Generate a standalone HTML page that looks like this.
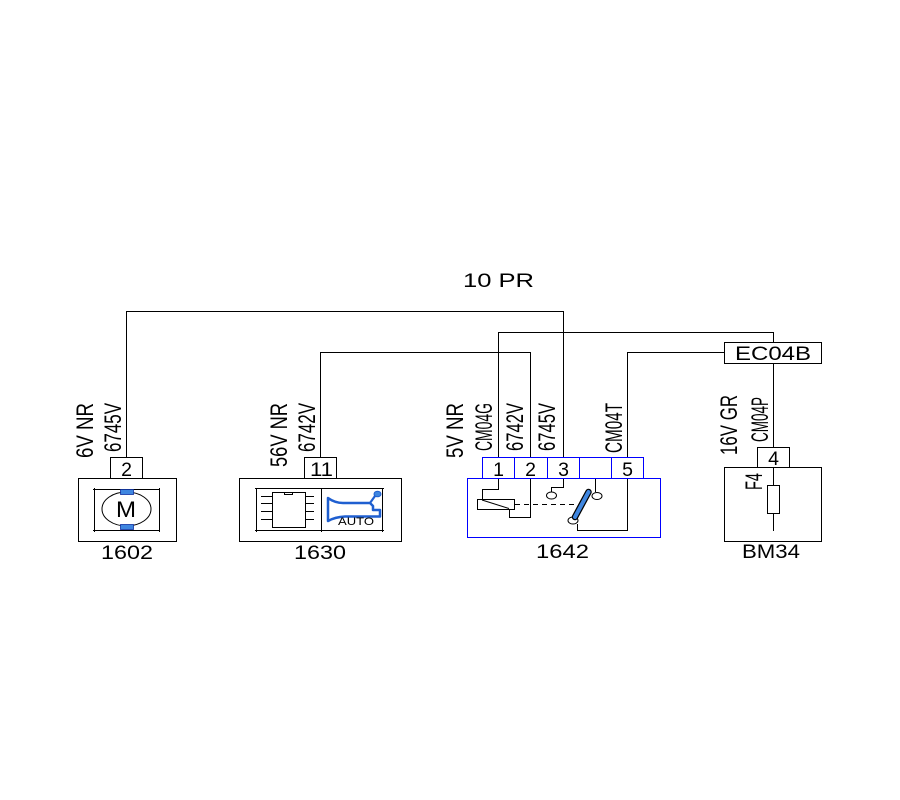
<!DOCTYPE html>
<html>
<head>
<meta charset="utf-8">
<style>
html,body{margin:0;padding:0;background:#fff;}
svg{display:block;}
text{font-family:"Liberation Sans", sans-serif;fill:#000;}
</style>
</head>
<body>
<svg width="900" height="800" viewBox="0 0 900 800" xmlns="http://www.w3.org/2000/svg">
<rect width="900" height="800" fill="#fff"/>

<!-- wires -->
<g stroke="#000" stroke-width="1" fill="none" shape-rendering="crispEdges">
  <path d="M126.5,457 V311.5 H563.5 V457"/>
  <path d="M498.5,457 V332.5 H773.5 V342"/>
  <path d="M320.5,457 V352.5 H530.5 V457"/>
  <path d="M627.5,457 V352.5 H724"/>
  <path d="M773.5,363 V447"/>
  <!-- EC04B -->
  <rect x="724.5" y="342.5" width="97" height="21"/>

  <!-- 1602 -->
  <rect x="110.5" y="457.5" width="32" height="21"/>
  <rect x="78.5" y="478.5" width="98" height="63"/>
  <path d="M93,489.5 H160 M93,530.5 H160 M94.5,488 V532 M159.5,488 V532"/>

  <!-- 1630 -->
  <rect x="304.5" y="457.5" width="32" height="21"/>
  <rect x="239.5" y="478.5" width="162" height="63"/>
  <path d="M255,488.5 H384 M255,530.5 H384 M256.5,488 V532 M321.5,488 V532 M382.5,488 V532"/>
  <rect x="272.5" y="492.5" width="33" height="35"/>
  <path d="M284.5,492.5 V494.5 H292.5 V492.5"/>
  <path d="M261,496.5 H272 M261,503.5 H272 M261,511.5 H272 M261,519.5 H272"/>
  <path d="M306,496.5 H314 M306,503.5 H314 M306,511.5 H314 M306,519.5 H314"/>

  <!-- BM34 -->
  <rect x="757.5" y="447.5" width="32" height="20"/>
  <rect x="724.5" y="467.5" width="97" height="74"/>
  <path d="M773.5,467 V531"/>
</g>

<!-- fuse -->
<rect x="767.5" y="485.5" width="12" height="28" fill="#fff" stroke="#000" stroke-width="1" shape-rendering="crispEdges"/>

<!-- motor -->
<ellipse cx="126.5" cy="509" rx="24.5" ry="17" fill="none" stroke="#000" stroke-width="1"/>
<rect x="120.5" y="489.5" width="13" height="5" fill="#3f86e0" stroke="#1030a0" stroke-width="0.8"/>
<rect x="120.5" y="524.5" width="13" height="5" fill="#3f86e0" stroke="#1030a0" stroke-width="0.8"/>
<text x="116" y="517" font-size="22" textLength="20" lengthAdjust="spacingAndGlyphs">M</text>

<!-- horn -->
<path d="M328,498 Q335,503 343,503 L370,503 L373,506 L373,510 L380,510 L380,516.5 L345,516.5 Q335,517 328,521 Z" fill="none" stroke="#1f5fd0" stroke-width="2.5" stroke-linejoin="round"/>
<path d="M370,503 L375,496" stroke="#1f5fd0" stroke-width="2.2" fill="none"/>
<ellipse cx="377.5" cy="494" rx="3.5" ry="2.8" fill="#3f86e0" stroke="#1f5fd0" stroke-width="1"/>
<text x="338" y="525" font-size="11" textLength="36" lengthAdjust="spacingAndGlyphs">AUTO</text>

<!-- 1642 -->
<g stroke="#0000ff" stroke-width="1" fill="none" shape-rendering="crispEdges">
  <rect x="482.5" y="457.5" width="161" height="21"/>
  <path d="M514.5,457 V478 M547.5,457 V478 M579.5,457 V478 M611.5,457 V478"/>
  <rect x="467.5" y="478.5" width="193" height="59"/>
</g>
<g stroke="#000" stroke-width="1" fill="none">
  <path d="M498.5,479 V489.5 H482.5 V499" shape-rendering="crispEdges"/>
  <rect x="477.5" y="499.5" width="37" height="10" shape-rendering="crispEdges"/>
  <path d="M482,500 L509,508.5"/>
  <path d="M509.5,510 V517.5 H530.5 V479" shape-rendering="crispEdges"/>
  <path d="M515,504.5 H578" stroke-dasharray="5 4" shape-rendering="crispEdges"/>
  <path d="M563.5,479 V487.5 H551.5 V492" shape-rendering="crispEdges"/>
  <ellipse cx="551.5" cy="495.5" rx="5" ry="3.5"/>
  <path d="M595.5,479 V492" shape-rendering="crispEdges"/>
  <ellipse cx="597" cy="496" rx="5" ry="3.5"/>
  <ellipse cx="573" cy="520.5" rx="5" ry="3.5"/>
  <path d="M577.5,524 V530.5 H627.5 V479" shape-rendering="crispEdges"/>
</g>
<line x1="575" y1="517" x2="588.5" y2="492" stroke="#000" stroke-width="6.5" stroke-linecap="round"/>
<line x1="575" y1="517" x2="588.5" y2="492" stroke="#3f86e0" stroke-width="4" stroke-linecap="round"/>

<!-- horizontal labels -->
<g font-size="19.5">
  <text x="463" y="287" textLength="71" lengthAdjust="spacingAndGlyphs">10 PR</text>
  <text x="735" y="360" textLength="76" lengthAdjust="spacingAndGlyphs">EC04B</text>
  <text x="101" y="559" textLength="52" lengthAdjust="spacingAndGlyphs">1602</text>
  <text x="294" y="559" textLength="52" lengthAdjust="spacingAndGlyphs">1630</text>
  <text x="536" y="558" textLength="53" lengthAdjust="spacingAndGlyphs">1642</text>
  <text x="742" y="558" textLength="58" lengthAdjust="spacingAndGlyphs">BM34</text>

  <text x="126.5" y="476" text-anchor="middle">2</text>
  <text x="310" y="476" textLength="23" lengthAdjust="spacingAndGlyphs">11</text>
  <text x="498.5" y="476" text-anchor="middle">1</text>
  <text x="530.5" y="476" text-anchor="middle">2</text>
  <text x="563.5" y="476" text-anchor="middle">3</text>
  <text x="627.5" y="476" text-anchor="middle">5</text>
  <text x="773.5" y="465" text-anchor="middle">4</text>
</g>

<!-- rotated labels -->
<g font-size="24" text-anchor="end">
  <text transform="translate(93,403) rotate(-90)" textLength="55" lengthAdjust="spacingAndGlyphs">6V NR</text>
  <text transform="translate(121,403) rotate(-90)" textLength="49" lengthAdjust="spacingAndGlyphs">6745V</text>
  <text transform="translate(287,403) rotate(-90)" textLength="64" lengthAdjust="spacingAndGlyphs">56V NR</text>
  <text transform="translate(315,403) rotate(-90)" textLength="49" lengthAdjust="spacingAndGlyphs">6742V</text>
  <text transform="translate(463,403) rotate(-90)" textLength="55" lengthAdjust="spacingAndGlyphs">5V NR</text>
  <text transform="translate(492,403) rotate(-90)" textLength="48" lengthAdjust="spacingAndGlyphs">CM04G</text>
  <text transform="translate(523,403) rotate(-90)" textLength="48" lengthAdjust="spacingAndGlyphs">6742V</text>
  <text transform="translate(555,403) rotate(-90)" textLength="48" lengthAdjust="spacingAndGlyphs">6745V</text>
  <text transform="translate(622,403) rotate(-90)" textLength="50" lengthAdjust="spacingAndGlyphs">CM04T</text>
  <text transform="translate(737,395) rotate(-90)" textLength="60" lengthAdjust="spacingAndGlyphs">16V GR</text>
  <text transform="translate(768,397) rotate(-90)" textLength="45" lengthAdjust="spacingAndGlyphs">CM04P</text>
  <text transform="translate(762,490) rotate(-90)" text-anchor="start" textLength="17" lengthAdjust="spacingAndGlyphs">F4</text>
</g>
</svg>
</body>
</html>
